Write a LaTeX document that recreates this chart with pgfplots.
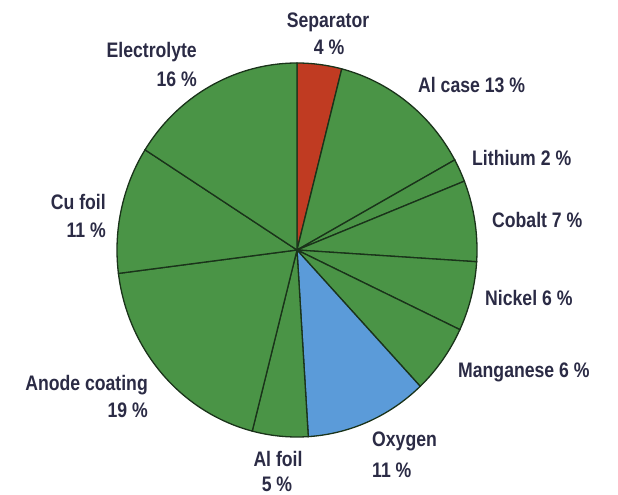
\documentclass[border=0pt]{standalone}
\usepackage{fontspec}
\setmainfont{Liberation Sans}[FakeStretch=0.84]
\usepackage{pgfplots}
\pgfplotsset{compat=1.18}
\definecolor{pgreen}{HTML}{4A9446}
\definecolor{pred}{HTML}{C03B22}
\definecolor{pblue}{HTML}{5B9BD9}
\definecolor{edge}{HTML}{1A331A}
\definecolor{txt}{HTML}{2B2B45}
\newcommand{\lab}{\fontsize{21bp}{25bp}\selectfont\bfseries}
% slice: start percent, end percent (clockwise from top), fill colour
\newcommand{\slice}[3]{%
  \addplot[draw=edge, line width=1.3bp, fill=#3, domain={90-3.6*(#2)}:{90-3.6*(#1)},
    samples=60, variable=\t] ({cos(\t)},{sin(\t)}) -- (0,0) -- cycle;}
\begin{document}
\begin{tikzpicture}
\useasboundingbox (0,0) rectangle (618bp,495bp);
\begin{axis}[
  scale only axis, width=360bp, height=374bp,
  xmin=-1, xmax=1, ymin=-1, ymax=1,
  hide axis, clip=false,
  at={(297bp,245bp)}, anchor=center]
% percentages: Separator 4, Al case 13, Lithium 2, Cobalt 7, Nickel 6,
% Manganese 6, Oxygen 11, Al foil 5, Anode coating 19, Cu foil 11, Electrolyte 16
\slice{0}{4}{pred}
\slice{4}{17}{pgreen}
\slice{17}{19}{pgreen}
\slice{19}{26}{pgreen}
\slice{26}{32}{pgreen}
\slice{32}{38}{pgreen}
\slice{38}{49}{pblue}
\slice{49}{54}{pgreen}
\slice{54}{73}{pgreen}
\slice{73}{84}{pgreen}
\slice{84}{100}{pgreen}
\end{axis}
\begin{scope}[every node/.style={font=\lab, text=txt, inner sep=0pt}]
\node[anchor=base] at (328bp,467bp) {Separator};
\node[anchor=base] at (329bp,440bp) {4 \%};
\node[anchor=base west] at (418bp,402bp) {Al case 13 \%};
\node[anchor=base west] at (472bp,329bp) {Lithium 2 \%};
\node[anchor=base west] at (492bp,267bp) {Cobalt 7 \%};
\node[anchor=base west] at (485bp,189bp) {Nickel 6 \%};
\node[anchor=base west] at (458bp,117bp) {Manganese 6 \%};
\node[anchor=base west] at (372bp,48bp) {Oxygen};
\node[anchor=base west] at (372bp,18bp) {11 \%};
\node[anchor=base] at (278bp,29bp) {Al foil};
\node[anchor=base] at (277bp,4bp) {5 \%};
\node[anchor=base east] at (197bp,437bp) {Electrolyte};
\node[anchor=base east] at (197bp,408bp) {16 \%};
\node[anchor=base east] at (106bp,285bp) {Cu foil};
\node[anchor=base east] at (106bp,257bp) {11 \%};
\node[anchor=base east] at (148bp,104bp) {Anode coating};
\node[anchor=base east] at (148bp,77bp) {19 \%};
\end{scope}
\end{tikzpicture}
\end{document}
